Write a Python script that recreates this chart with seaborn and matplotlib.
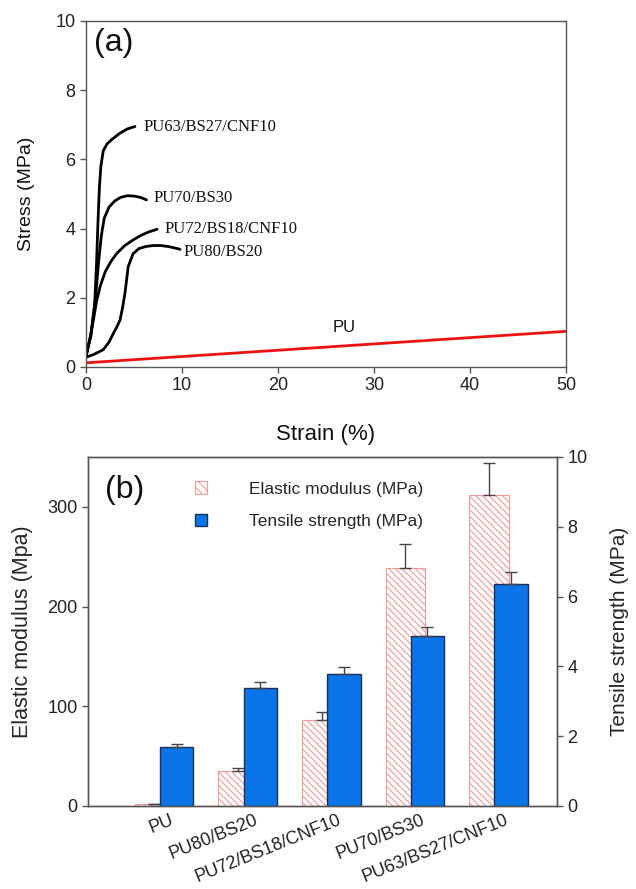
import numpy as np
import pandas as pd
import matplotlib
matplotlib.use("Agg")
import matplotlib.pyplot as plt
from matplotlib.patches import Patch
import seaborn as sns

# ---------------- data ----------------
# (a) stress-strain curves
pu63_strain = [0, 0.5, 0.9, 1.1, 1.25, 1.4, 1.55, 1.8, 2.2, 2.8, 3.5, 4.3, 5.1]
pu63_stress = [0.35, 0.9, 1.8, 3.0, 4.2, 5.2, 5.8, 6.25, 6.45, 6.6, 6.75, 6.88, 6.95]

pu70_strain = [0, 0.5, 1.0, 1.3, 1.6, 1.9, 2.4, 3.0, 3.6, 4.3, 5.0, 5.7, 6.3]
pu70_stress = [0.3, 0.9, 2.0, 3.0, 3.8, 4.3, 4.62, 4.8, 4.9, 4.95, 4.94, 4.9, 4.83]

pu72_strain = [0, 0.4, 0.8, 1.1, 1.5, 2.0, 2.6, 3.2, 4.0, 4.9, 5.7, 6.5, 7.4]
pu72_stress = [0.3, 0.8, 1.4, 1.9, 2.35, 2.75, 3.05, 3.28, 3.5, 3.67, 3.8, 3.9, 3.98]

pu80_strain = [0, 0.8, 1.8, 2.4, 2.85, 3.2, 3.55, 3.8, 4.06, 4.4, 4.9, 5.5, 6.2, 7.0, 7.8, 8.6, 9.4, 9.8]
pu80_stress = [0.28, 0.36, 0.5, 0.72, 0.97, 1.15, 1.36, 1.7, 2.13, 2.9, 3.27, 3.42, 3.48, 3.51, 3.51, 3.48, 3.43, 3.4]

pu_strain = [0, 50]
pu_stress = [0.12, 1.03]

curve_names = ["PU63/BS27/CNF10", "PU70/BS30", "PU72/BS18/CNF10", "PU80/BS20"]
curve_label_pos = [(6.0, 6.94), (7.0, 4.88), (8.2, 4.0), (10.2, 3.33)]

# (b) bar chart
categories = ["PU", "PU80/BS20", "PU72/BS18/CNF10", "PU70/BS30", "PU63/BS27/CNF10"]
modulus = [1.5, 35, 86, 239, 312]
modulus_err = [0.8, 3.5, 8, 24, 32]
tensile = [1.70, 3.38, 3.79, 4.87, 6.37]
tensile_err = [0.08, 0.17, 0.18, 0.26, 0.33]

# ---------------- style ----------------
sns.set_theme(style="ticks")
plt.rcParams["font.family"] = ["Liberation Sans", "DejaVu Sans"]
plt.rcParams["hatch.linewidth"] = 0.8
spine_c = "#555555"

fig = plt.figure(figsize=(6.36, 8.89), dpi=100)
ax1 = fig.add_axes([0.1352, 0.5872, 0.7547, 0.3892])
ax2 = fig.add_axes([0.1384, 0.0934, 0.7374, 0.3926])
ax3 = ax2.twinx()

# ---------------- panel (a) ----------------
curves = [(pu63_strain, pu63_stress), (pu70_strain, pu70_stress),
          (pu72_strain, pu72_stress), (pu80_strain, pu80_stress)]
for name, (sx, sy) in zip(curve_names, curves):
    df = pd.DataFrame({"strain": sx, "stress": sy})
    sns.lineplot(data=df, x="strain", y="stress", ax=ax1, color="black",
                 lw=2.0, sort=False, estimator=None)
dfpu = pd.DataFrame({"strain": pu_strain, "stress": pu_stress})
sns.lineplot(data=dfpu, x="strain", y="stress", ax=ax1, color="#ee1111",
             lw=2.0, sort=False, estimator=None)

for name, (lx, ly) in zip(curve_names, curve_label_pos):
    ax1.text(lx, ly, name, family=["Liberation Serif", "DejaVu Serif"],
             fontsize=12, ha="left", va="center", color="#111111")
ax1.text(25.7, 1.13, "PU", fontsize=12, ha="left", va="center", color="#111111")
ax1.text(0.016, 0.936, "(a)", transform=ax1.transAxes, fontsize=23,
         ha="left", va="center", color="#111111")

ax1.set_xlim(0, 50)
ax1.set_ylim(0, 10)
ax1.set_xticks([0, 10, 20, 30, 40, 50])
ax1.set_yticks([0, 2, 4, 6, 8, 10])
ax1.set_xlabel("Strain (%)", fontsize=16, labelpad=21)
ax1.set_ylabel("Stress (MPa)", fontsize=14, labelpad=15)

# ---------------- panel (b) ----------------
pos = np.arange(len(categories))
ax2.bar(pos - 0.30, modulus, width=0.47, align="edge", color="white",
        edgecolor="#f29a9a", hatch="\\\\\\\\\\", linewidth=0.8, zorder=2)
ax2.errorbar(pos - 0.065, modulus, yerr=[np.zeros(len(modulus)), modulus_err],
             fmt="none", ecolor="#444444", elinewidth=1.0, capsize=4,
             capthick=1.0, zorder=3)
ax3.bar(pos, tensile, width=0.40, align="edge", color="#0a74e8",
        edgecolor="#1c2f55", linewidth=1.0, zorder=2)
ax3.errorbar(pos + 0.20, tensile, yerr=[np.zeros(len(tensile)), tensile_err],
             fmt="none", ecolor="#444444", elinewidth=1.0, capsize=4,
             capthick=1.0, zorder=3)

ax2.set_xlim(-0.86, 4.75)
ax2.set_ylim(0, 350)
ax3.set_ylim(0, 10)
ax2.set_yticks([0, 100, 200, 300])
ax3.set_yticks([0, 2, 4, 6, 8, 10])
ax2.set_xticks(pos + 0.12)
ax2.set_xticklabels(categories, rotation=22, ha="right", va="top",
                    rotation_mode="anchor", fontsize=13)
ax2.tick_params(axis="x", length=0, pad=4)
ax2.set_ylabel("Elastic modulus (Mpa)", fontsize=15.5, labelpad=10)
ax3.set_ylabel("Tensile strength (MPa)", fontsize=15, labelpad=16)
ax2.text(0.036, 0.905, "(b)", transform=ax2.transAxes, fontsize=23,
         ha="left", va="center", color="#111111")

handles = [Patch(facecolor="white", edgecolor="#f29a9a", hatch="\\\\\\\\", linewidth=0.8),
           Patch(facecolor="#0a74e8", edgecolor="#1c2f55", linewidth=1.0)]
ax3.legend(handles, ["Elastic modulus (MPa)", "Tensile strength (MPa)"],
           loc="upper left", bbox_to_anchor=(0.228, 0.93), frameon=False,
           fontsize=12.5, handlelength=0.7, handleheight=0.7,
           handletextpad=2.4, labelspacing=1.0, borderpad=0, borderaxespad=0)

# ---------------- common styling ----------------
for ax in (ax1, ax2, ax3):
    for s in ax.spines.values():
        s.set_visible(True)
        s.set_color(spine_c)
        s.set_linewidth(1.0)
    ax.tick_params(colors="#222222", labelsize=13, direction="out",
                   length=4, width=1.0)
    ax.tick_params(axis="both", color=spine_c)
    ax.grid(False)
ax2.tick_params(axis="x", length=0)
ax1.yaxis.label.set_color("#111111")
ax1.xaxis.label.set_color("#111111")

fig.savefig("out.png", dpi=100)
